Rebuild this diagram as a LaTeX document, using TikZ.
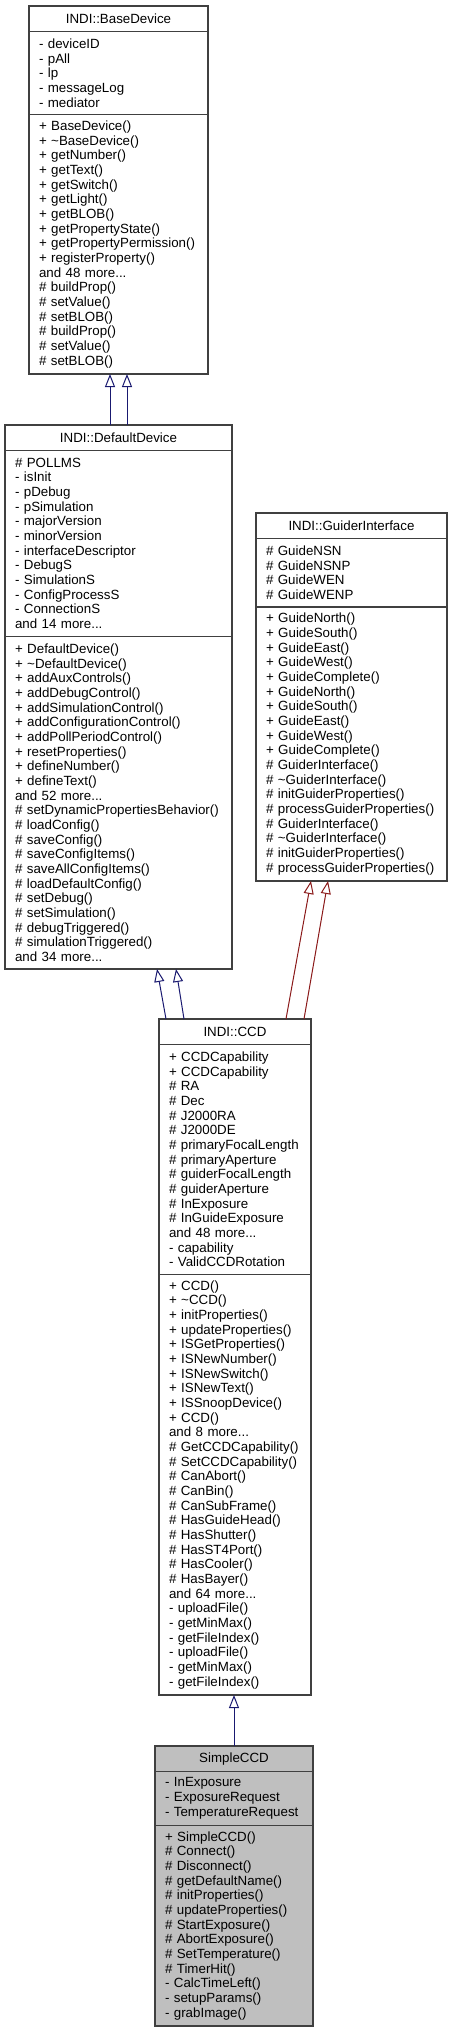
\documentclass[tikz,border=0pt]{standalone}
\usepackage{fontspec}
\setmainfont{Liberation Sans}
\usetikzlibrary{positioning,arrows.meta}

\definecolor{edgegray}{RGB}{64,64,64}
\definecolor{curgray}{RGB}{191,191,191}
\definecolor{pubblue}{RGB}{25,25,112}
\definecolor{protred}{RGB}{139,26,26}

\tikzset{
    cls/.style={draw=edgegray, fill=white, line width=0.8pt, outer sep=0pt,
        inner xsep=7.5pt, inner ysep=0pt, align=left,
        font=\fontsize{10}{11}\selectfont},
    head/.style={cls, align=center, minimum height=19pt},
    nrows/.style={cls, minimum height=#1*11pt+7.5pt},
    cur/.style={fill=curgray},
    pub/.style={draw=pubblue, line width=0.75pt,
        -{Triangle[open, length=9.75pt, width=7.5pt, fill=white]}},
    prot/.style={pub, draw=protred}
    }

\begin{document}
\begin{tikzpicture}[x=0.75pt, y=-0.75pt]
                \useasboundingbox (0,0) rectangle (453,2033);
                % INDI::BaseDevice
                \node[head, text width=119.25pt, anchor=north west] (base) at (29,6) {INDI::BaseDevice};
                \node[nrows=5, text width=119.25pt, below=0pt of base] (baseA)
                    {- deviceID\\- pAll\\- lp\\- messageLog\\- mediator};
                \node[nrows=17, text width=119.25pt, below=0pt of baseA] (baseM)
                    {+ BaseDevice()\\+ \textasciitilde BaseDevice()\\+ getNumber()\\+ getText()\\+ getSwitch()\\
                     + getLight()\\+ getBLOB()\\+ getPropertyState()\\+ getPropertyPermission()\\+ registerProperty()\\
                     and 48 more...\\\# buildProp()\\\# setValue()\\\# setBLOB()\\\# buildProp()\\\# setValue()\\\# setBLOB()};

                % INDI::DefaultDevice
                \node[head, text width=155.25pt, anchor=north west] (dev) at (5,425) {INDI::DefaultDevice};
                \node[nrows=12, text width=155.25pt, below=0pt of dev] (devA)
                    {\# POLLMS\\- isInit\\- pDebug\\- pSimulation\\- majorVersion\\- minorVersion\\
                     - interfaceDescriptor\\- DebugS\\- SimulationS\\- ConfigProcessS\\- ConnectionS\\and 14 more...};
                \node[nrows=22, text width=155.25pt, below=0pt of devA] (devM)
                    {+ DefaultDevice()\\+ \textasciitilde DefaultDevice()\\+ addAuxControls()\\+ addDebugControl()\\
                     + addSimulationControl()\\+ addConfigurationControl()\\+ addPollPeriodControl()\\
                     + resetProperties()\\+ defineNumber()\\+ defineText()\\and 52 more...\\
                     \# setDynamicPropertiesBehavior()\\\# loadConfig()\\\# saveConfig()\\\# saveConfigItems()\\
                     \# saveAllConfigItems()\\\# loadDefaultConfig()\\\# setDebug()\\\# setSimulation()\\
                     \# debugTriggered()\\\# simulationTriggered()\\and 34 more...};

                % INDI::GuiderInterface
                \node[head, text width=128.25pt, anchor=north west] (guide) at (256,513) {INDI::GuiderInterface};
                \node[nrows=4, text width=128.25pt, below=0pt of guide] (guideA)
                    {\# GuideNSN\\\# GuideNSNP\\\# GuideWEN\\\# GuideWENP};
                \node[nrows=18, text width=128.25pt, below=0pt of guideA] (guideM)
                    {+ GuideNorth()\\+ GuideSouth()\\+ GuideEast()\\+ GuideWest()\\+ GuideComplete()\\
                     + GuideNorth()\\+ GuideSouth()\\+ GuideEast()\\+ GuideWest()\\+ GuideComplete()\\
                     \# GuiderInterface()\\\# \textasciitilde GuiderInterface()\\\# initGuiderProperties()\\
                     \# processGuiderProperties()\\\# GuiderInterface()\\\# \textasciitilde GuiderInterface()\\
                     \# initGuiderProperties()\\\# processGuiderProperties()};

                % INDI::CCD
                \node[head, text width=99pt, anchor=north west] (ccd) at (159,1019) {INDI::CCD};
                \node[nrows=15, text width=99pt, below=0pt of ccd] (ccdA)
                    {+ CCDCapability\\+ CCDCapability\\\# RA\\\# Dec\\\# J2000RA\\\# J2000DE\\
                     \# primaryFocalLength\\\# primaryAperture\\\# guiderFocalLength\\\# guiderAperture\\
                     \# InExposure\\\# InGuideExposure\\and 48 more...\\- capability\\- ValidCCDRotation};
                \node[nrows=28, text width=99pt, below=0pt of ccdA] (ccdM)
                    {+ CCD()\\+ \textasciitilde CCD()\\+ initProperties()\\+ updateProperties()\\+ ISGetProperties()\\
                     + ISNewNumber()\\+ ISNewSwitch()\\+ ISNewText()\\+ ISSnoopDevice()\\+ CCD()\\and 8 more...\\
                     \# GetCCDCapability()\\\# SetCCDCapability()\\\# CanAbort()\\\# CanBin()\\\# CanSubFrame()\\
                     \# HasGuideHead()\\\# HasShutter()\\\# HasST4Port()\\\# HasCooler()\\\# HasBayer()\\
                     and 64 more...\\- uploadFile()\\- getMinMax()\\- getFileIndex()\\- uploadFile()\\
                     - getMinMax()\\- getFileIndex()};

                % SimpleCCD
                \node[head, cur, text width=103.5pt, anchor=north west] (simple) at (155,1746) {SimpleCCD};
                \node[nrows=3, cur, text width=103.5pt, below=0pt of simple] (simpleA)
                    {- InExposure\\- ExposureRequest\\- TemperatureRequest};
                \node[nrows=13, cur, text width=103.5pt, below=0pt of simpleA] (simpleM)
                    {+ SimpleCCD()\\\# Connect()\\\# Disconnect()\\\# getDefaultName()\\\# initProperties()\\
                     \# updateProperties()\\\# StartExposure()\\\# AbortExposure()\\\# SetTemperature()\\
                     \# TimerHit()\\- CalcTimeLeft()\\- setupParams()\\- grabImage()};

                % Inheritance
                \draw[pub] ([xshift=-6.375pt]dev.north) -- ([xshift=-6.375pt]baseM.south);
                \draw[pub] ([xshift=6.375pt]dev.north) -- ([xshift=6.375pt]baseM.south);
                \draw[pub] ([xshift=-51.75pt]ccd.north) -- ([xshift=28.875pt]devM.south);
                \draw[pub] ([xshift=-38.25pt]ccd.north) -- ([xshift=43.125pt]devM.south);
                \draw[prot] ([xshift=38.25pt]ccd.north) -- ([xshift=-30.375pt]guideM.south);
                \draw[prot] ([xshift=51.75pt]ccd.north) -- ([xshift=-17.625pt]guideM.south);
                \draw[pub] (simple.north) -- (ccdM.south -| simple.north);
            \end{tikzpicture}
\end{document}
